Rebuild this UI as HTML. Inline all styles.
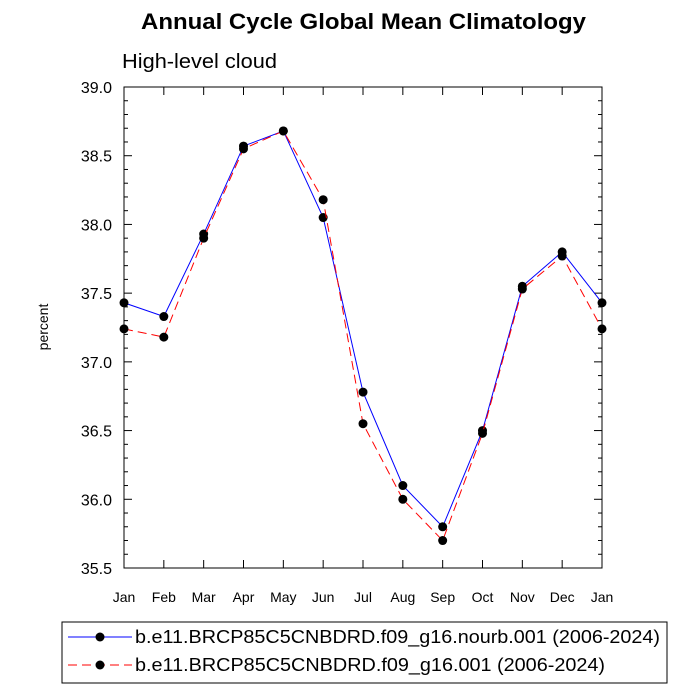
<!DOCTYPE html>
<html><head><meta charset="utf-8"><style>
body{margin:0;background:#fff;}
svg{display:block;font-family:"Liberation Sans",sans-serif;}
</style></head><body>
<svg id="chart" width="700" height="700" viewBox="0 0 700 700">
<text x="141" y="29" textLength="445" lengthAdjust="spacingAndGlyphs" font-size="22" font-weight="bold">Annual Cycle Global Mean Climatology</text>
<text x="122" y="68" textLength="155" lengthAdjust="spacingAndGlyphs" font-size="20">High-level cloud</text>
<text transform="translate(48,327) rotate(-90)" text-anchor="middle" font-size="14">percent</text>
<rect x="124" y="87" width="478" height="481" fill="none" stroke="#000" stroke-width="1"/>
<g id="axes"></g>
<g id="series"></g>
<g>
<rect x="62" y="622" width="605" height="61" fill="none" stroke="#000" stroke-width="1"/>
<g>
<line x1="68" y1="637" x2="132" y2="637" stroke="#0000ff" stroke-width="1"/>
<circle cx="100" cy="637" r="4.5" fill="#000"/>
<text x="135" y="643" font-size="18" textLength="525" lengthAdjust="spacingAndGlyphs">b.e11.BRCP85C5CNBDRD.f09_g16.nourb.001 (2006-2024)</text>
</g>
<g>
<line x1="68" y1="665" x2="132" y2="665" stroke="#ff0000" stroke-width="1" stroke-dasharray="9,5"/>
<circle cx="100" cy="665" r="4.5" fill="#000"/>
<text x="135" y="671" font-size="18" textLength="470" lengthAdjust="spacingAndGlyphs">b.e11.BRCP85C5CNBDRD.f09_g16.001 (2006-2024)</text>
</g>
</g>
</svg>
<script>
const months=["Jan","Feb","Mar","Apr","May","Jun","Jul","Aug","Sep","Oct","Nov","Dec","Jan"];
const nourbValues=[37.43,37.33,37.93,38.57,38.68,38.05,36.78,36.10,35.80,36.50,37.55,37.80,37.43];
const baseValues=[37.24,37.18,37.90,38.55,38.68,38.18,36.55,36.00,35.70,36.48,37.53,37.77,37.24];
const yTicks=[35.5,36.0,36.5,37.0,37.5,38.0,38.5,39.0];
const NS="http://www.w3.org/2000/svg";
const X0=124,X1=602,Y0=568,Y1=87,YMIN=35.5,YMAX=39.0;
const xs=i=>X0+(X1-X0)*i/(months.length-1);
const ys=v=>Y0-(v-YMIN)/(YMAX-YMIN)*(Y0-Y1);
function mk(t,a){const e=document.createElementNS(NS,t);for(const k in a)e.setAttribute(k,a[k]);return e;}
const ax=document.getElementById('axes');
months.forEach((m,i)=>{
 const x=xs(i);
 const t1=mk('line',{x1:x,y1:Y0,x2:x,y2:Y0-8,stroke:'#000'});
 
 
 ax.appendChild(t1);
 const t2=mk('line',{x1:x,y1:Y1,x2:x,y2:Y1+8,stroke:'#000'});
 
 
 ax.appendChild(t2);
 const l=mk('text',{x:x,y:Y0+34,'text-anchor':'middle','font-size':'14'});
 
 
 l.textContent=m;ax.appendChild(l);
});
for(let k=0;k<=35;k++){
 const v=YMIN+k*0.1;const y=ys(v);const major=(k%5===0);const len=major?8:4;
 const a=mk('line',{x1:X0,y1:y,x2:X0+len,y2:y,stroke:'#000'});
 
 
 ax.appendChild(a);
 const b=mk('line',{x1:X1,y1:y,x2:X1-len,y2:y,stroke:'#000'});
 
 
 ax.appendChild(b);
}
yTicks.forEach(v=>{
 const l=mk('text',{x:X0-12,y:ys(v)+6,'text-anchor':'end','font-size':'16'});
 
 
 l.textContent=v.toFixed(1);ax.appendChild(l);
});
const sg=document.getElementById('series');
function draw(vals,color,dash,name){
 const g=mk('g',{});
 
 
 const p=mk('polyline',{points:vals.map((v,i)=>xs(i)+','+ys(v)).join(' '),fill:'none',stroke:color,'stroke-width':1});
 if(dash)p.setAttribute('stroke-dasharray',dash);
 
 
 g.appendChild(p);
 vals.forEach((v,i)=>{
  const c=mk('circle',{cx:xs(i),cy:ys(v),r:4.5,fill:'#000'});
  
  
  g.appendChild(c);
 });
 sg.appendChild(g);
}
draw(nourbValues,'#0000ff',null,'series-nourb');
draw(baseValues,'#ff0000','9,5','series-base');
</script>
</body></html>
